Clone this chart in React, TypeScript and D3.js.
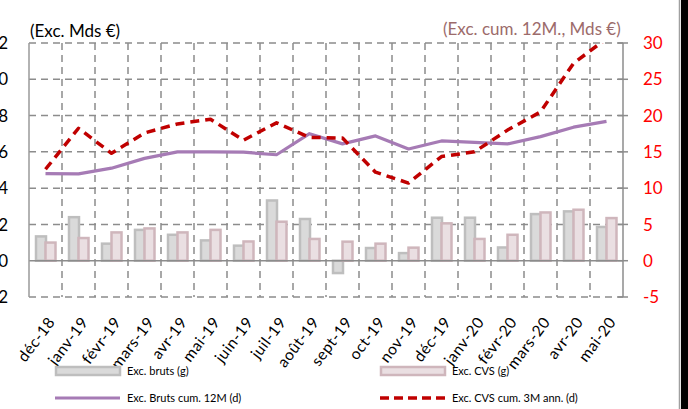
import React from 'react';
import * as d3 from 'd3';

const months = ['déc-18', 'janv-19', 'févr-19', 'mars-19', 'avr-19', 'mai-19', 'juin-19', 'juil-19', 'août-19', 'sept-19',
  'oct-19', 'nov-19', 'déc-19', 'janv-20', 'févr-20', 'mars-20', 'avr-20', 'mai-20'];

// left axis (Mds €)
const brutsValues = [1.34, 2.4, 0.94, 1.7, 1.43, 1.12, 0.83, 3.32, 2.3, -0.68, 0.7, 0.42, 2.37, 2.37, 0.73, 2.57, 2.72, 1.86];
const cvsValues = [1.0, 1.25, 1.56, 1.78, 1.56, 1.7, 1.06, 2.15, 1.2, 1.05, 0.94, 0.72, 2.06, 1.2, 1.43, 2.66, 2.81, 2.35];

// right axis (cum., Mds €)
const brutsCum12 = [12.0, 11.97, 12.75, 14.1, 15.0, 15.0, 14.95, 14.6, 17.5, 16.1, 17.2, 15.4, 16.5, 16.3, 16.1, 17.1, 18.4, 19.2];
const cvsCum3Ann = [12.6, 18.25, 14.8, 17.6, 18.85, 19.5, 16.6, 19.0, 17.0, 16.9, 12.2, 10.7, 14.35, 15.0, 18.0, 20.5, 27.2, 30.6];

const leftTicks = [-2, 0, 2, 4, 6, 8, 10, 12];
const rightTicks = [-5, 0, 5, 10, 15, 20, 25, 30];

const W = 688, H = 409;
const plot = { left: 29, right: 623, top: 43, bottom: 297 };
const font = 'Lato, "Open Sans", sans-serif';
const gridColor = '#8c8c8c';

export default function App() {
  const x = d3.scaleBand<string>().domain(months).range([plot.left, plot.right]);
  const yL = d3.scaleLinear().domain([-2, 12]).range([plot.bottom, plot.top]);
  const yR = d3.scaleLinear().domain([-5, 30]).range([plot.bottom, plot.top]);
  const bw = x.bandwidth();
  const cx = (i: number) => (x(months[i]) as number) + bw / 2;

  const line = (vals: number[]) =>
    d3.line<number>().x((_, i) => cx(i)).y(d => yR(d))(vals) as string;

  const bar = (v: number) => ({ y: Math.min(yL(v), yL(0)), h: Math.abs(yL(v) - yL(0)) });

  const boundaries = d3.range(1, months.length).map(i => x(months[i]) as number);

  return (
    <svg width={W} height={H} style={{ position: 'absolute', left: 0, top: 0, background: '#fff' }}>
      <defs>
        <clipPath id="plotclip">
          <rect x={plot.left} y={plot.top} width={plot.right - plot.left} height={plot.bottom - plot.top} />
        </clipPath>
      </defs>

      {/* horizontal grid */}
      {leftTicks.filter(t => t !== 0).map(t => (
        <line key={'h' + t} x1={plot.left} x2={plot.right} y1={yL(t)} y2={yL(t)}
          stroke={gridColor} strokeWidth={1.5} strokeDasharray="7,5" />
      ))}
      {/* vertical grid */}
      {boundaries.map((bx, i) => (
        <line key={'v' + i} x1={bx} x2={bx} y1={plot.top} y2={plot.bottom}
          stroke={gridColor} strokeWidth={1.5} strokeDasharray="7,5" />
      ))}

      {/* bars */}
      {brutsValues.map((v, i) => {
        const b = bar(v);
        return <rect key={'g' + i} x={(x(months[i]) as number) + 7} y={b.y} width={10} height={b.h}
          fill="#dadada" stroke="#bebebe" strokeWidth={2.5} />;
      })}
      {cvsValues.map((v, i) => {
        const b = bar(v);
        return <rect key={'p' + i} x={(x(months[i]) as number) + 16.5} y={b.y} width={10} height={b.h}
          fill="#eadfe2" stroke="#cfb6bc" strokeWidth={2.5} />;
      })}

      {/* zero line and axes */}
      <line x1={plot.left} x2={plot.right} y1={yL(0)} y2={yL(0)} stroke="#8c8c8c" strokeWidth={1.5} />
      <line x1={plot.left} x2={plot.left} y1={plot.top} y2={plot.bottom} stroke="#9a9a9a" strokeWidth={1.5} />
      <line x1={plot.right} x2={plot.right} y1={plot.top} y2={plot.bottom} stroke="#8c8c8c" strokeWidth={1.5} />
      {rightTicks.map(t => (
        <line key={'rt' + t} x1={plot.right - 5} x2={plot.right + 5} y1={yR(t)} y2={yR(t)} stroke="#8c8c8c" strokeWidth={1.5} />
      ))}

      {/* lines */}
      <g clipPath="url(#plotclip)">
        <path d={line(brutsCum12)} fill="none" stroke="#a67bb5" strokeWidth={3.2} strokeLinejoin="round" />
        <path d={line(cvsCum3Ann)} fill="none" stroke="#c00000" strokeWidth={3.5} strokeDasharray="9,6" strokeLinejoin="round" />
      </g>

      {/* left labels */}
      {leftTicks.map(t => (
        <text key={'ll' + t} x={8} y={yL(t)} dy="0.36em" textAnchor="end" fontFamily={font} fontSize={17} fill="#000">{t}</text>
      ))}
      {/* right labels */}
      {rightTicks.map(t => (
        <text key={'rl' + t} x={643} y={yR(t)} dy="0.36em" fontFamily={font} fontSize={17} fill="#ff0000">{t}</text>
      ))}

      {/* titles */}
      <text x={30} y={37} fontFamily={font} fontSize={17} fill="#000">(Exc. Mds €)</text>
      <text x={443} y={35} fontFamily={font} fontSize={17} fill="#9c6b6b">(Exc. cum. 12M., Mds €)</text>

      {/* x labels */}
      {months.map((m, i) => (
        <text key={'xl' + m} transform={`translate(${cx(i) + 6},${319}) rotate(-53)`} dy="0.35em"
          textAnchor="end" fontFamily={font} fontSize={15.5} letterSpacing={0.5} fill="#000">{m}</text>
      ))}

      {/* legend */}
      <rect x={56} y={367} width={64} height={8} fill="#dadada" stroke="#bebebe" strokeWidth={2.5} />
      <text x={127} y={371} dy="0.35em" fontFamily={font} fontSize={11} fill="#000">Exc. bruts (g)</text>
      <rect x={381} y={367} width={64} height={8} fill="#eadfe2" stroke="#cfb6bc" strokeWidth={2.5} />
      <text x={452} y={371} dy="0.35em" fontFamily={font} fontSize={11} fill="#000">Exc. CVS (g)</text>
      <line x1={55} x2={120} y1={398} y2={398} stroke="#a67bb5" strokeWidth={3.2} />
      <text x={127} y={398} dy="0.35em" fontFamily={font} fontSize={11} fill="#000">Exc. Bruts cum. 12M (d)</text>
      <line x1={380} x2={446} y1={398} y2={398} stroke="#c00000" strokeWidth={3.5} strokeDasharray="9,5" />
      <text x={452} y={398} dy="0.35em" fontFamily={font} fontSize={11} fill="#000">Exc. CVS cum. 3M ann. (d)</text>

      {/* frame edge on the right */}
      <line x1={679.5} x2={679.5} y1={0} y2={H} stroke="#a0a0a0" strokeWidth={1.5} />
      <rect x={681} y={0} width={W - 681} height={H} fill="#000" />
    </svg>
  );
}
